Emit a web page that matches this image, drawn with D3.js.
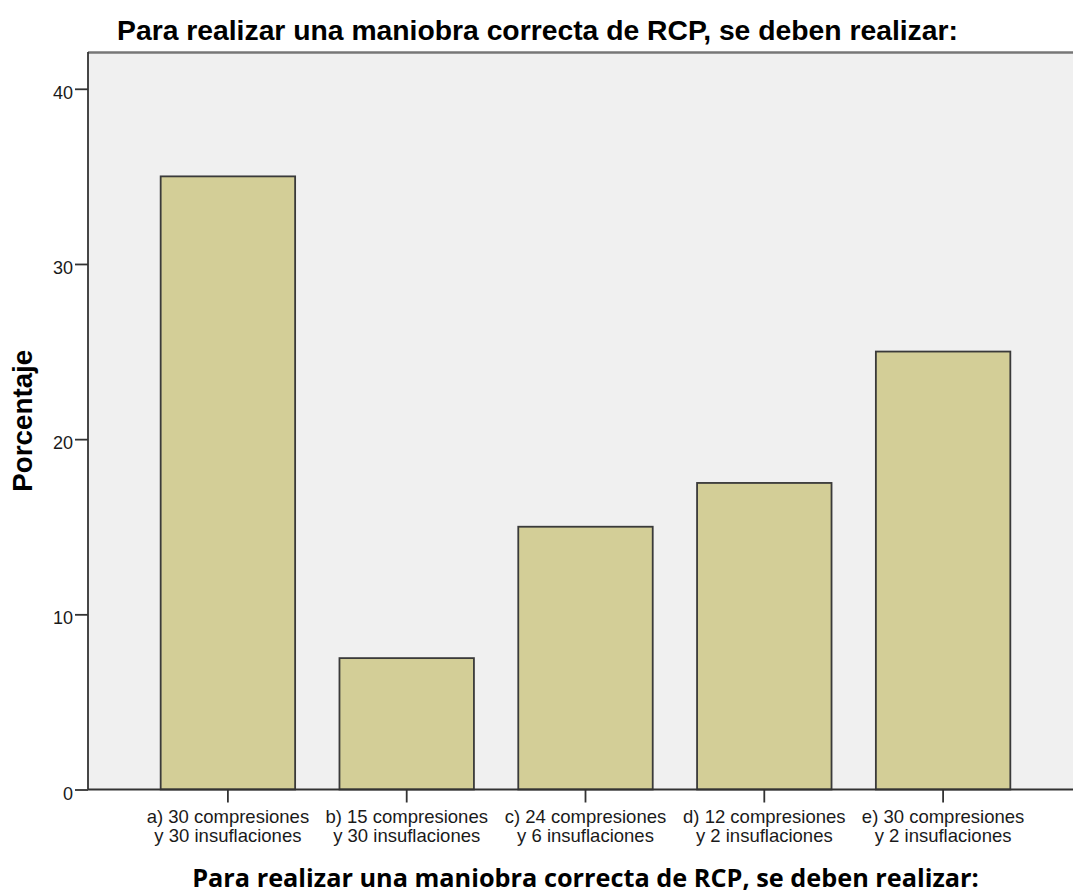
<!DOCTYPE html>
<head>
  <meta charset="utf-8">
  <script src="https://d3js.org/d3.v7.min.js"></script>
  <style>
    html, body { margin: 0; padding: 0; background: #ffffff; }
    svg { display: block; overflow: hidden; }
    .title { font-family: 'Liberation Sans', Arial, sans-serif; font-weight: bold; fill: #000; }
    .xTitle { font-family: 'Open Sans', sans-serif; font-weight: bold; fill: #000; }
    .yTitle { font-family: 'Liberation Sans', Arial, sans-serif; font-weight: bold; fill: #000; }
    .axis text { font-family: 'Liberation Sans', Arial, sans-serif; fill: #1a1a1a; }
    .axis path, .axis line { stroke: #333333; stroke-width: 1.8; }
  </style>
</head>
<body>
<div id="chart"></div>
<script>

// data
const categories = [
  "a) 30 compresiones\ny 30 insuflaciones",
  "b) 15 compresiones\ny 30 insuflaciones",
  "c) 24 compresiones\ny 6 insuflaciones",
  "d) 12 compresiones\ny 2 insuflaciones",
  "e) 30 compresiones\ny 2 insuflaciones"
];
const percentages = [35, 7.5, 15, 17.5, 25];
const yTicks = [0, 10, 20, 30, 40];

const titleText = "Para realizar una maniobra correcta de RCP, se deben realizar:";
const yTitleText = "Porcentaje";

// layout
const W = 1073, H = 893;
const plot = { left: 88, right: 1083, top: 52, bottom: 789.5 };

const svg = d3.select("#chart").append("svg")
    .attr("width", W)
    .attr("height", H);

const x = d3.scaleBand()
    .domain(categories)
    .range([138.5, 1032.5])
    .paddingInner(0.248)
    .paddingOuter(0.124);

const y = d3.scaleLinear()
    .domain([0, 42.1])
    .range([plot.bottom, plot.top]);

// plot background
svg.append("rect")
    .attr("x", plot.left)
    .attr("y", plot.top)
    .attr("width", plot.right - plot.left)
    .attr("height", plot.bottom - plot.top)
    .style("fill", "#f0f0f0");

// top frame line
svg.append("line")
    .attr("x1", plot.left).attr("x2", plot.right)
    .attr("y1", plot.top + 0.5).attr("y2", plot.top + 0.5)
    .style("stroke", "#777777")
    .style("stroke-width", 2.5);

// bars
svg.selectAll(".bar")
    .data(categories)
    .enter().append("rect")
    .attr("class", "bar")
    .attr("x", d => x(d))
    .attr("y", (d, i) => y(percentages[i]))
    .attr("width", x.bandwidth())
    .attr("height", (d, i) => y(0) - y(percentages[i]))
    .style("fill", "#d3ce97")
    .style("stroke", "#3a3a3a")
    .style("stroke-width", 1.8);

// y axis
const yAxis = svg.append("g")
    .attr("class", "axis")
    .attr("transform", "translate(" + plot.left + ",0)")
    .call(d3.axisLeft(y).tickValues(yTicks).tickSize(13).tickSizeOuter(0).tickPadding(2));
yAxis.select(".domain").attr("d", "M0," + plot.top + "V" + plot.bottom);
yAxis.selectAll("text")
    .style("font-size", "18px")
    .attr("dy", "9.5px");

// x axis
const xAxis = svg.append("g")
    .attr("class", "axis")
    .attr("transform", "translate(0," + plot.bottom + ")")
    .call(d3.axisBottom(x).tickSize(13).tickSizeOuter(0).tickFormat(""));
xAxis.select(".domain").attr("d", "M" + plot.left + ",0H" + plot.right);

xAxis.selectAll(".tick").each(function(d) {
  const lines = d.split("\n");
  const t = d3.select(this).append("text")
      .attr("text-anchor", "middle")
      .style("font-size", "18.5px");
  lines.forEach((ln, i) => {
    t.append("tspan")
      .attr("x", 0)
      .attr("y", i === 0 ? 33.5 : 52)
      .text(ln);
  });
});

// fit a text element to a target width
function fitWidth(sel, target, size) {
  sel.style("font-size", size + "px");
  const w = sel.node().getComputedTextLength();
  sel.style("font-size", (size * target / w) + "px");
}

// chart title
const title = svg.append("text")
    .attr("class", "title")
    .attr("x", 537.5)
    .attr("y", 40)
    .attr("text-anchor", "middle")
    .text(titleText);
fitWidth(title, 841, 27);

// x axis title
const xTitle = svg.append("text")
    .attr("class", "xTitle")
    .attr("x", 585.5)
    .attr("y", 887)
    .attr("text-anchor", "middle")
    .text(titleText);
fitWidth(xTitle, 787, 24);

// y axis title
const yTitle = svg.append("text")
    .attr("class", "yTitle")
    .attr("transform", "translate(32," + ((plot.top + plot.bottom) / 2) + ") rotate(-90)")
    .attr("text-anchor", "middle")
    .text(yTitleText);
fitWidth(yTitle, 142, 27);

</script>
</body>
